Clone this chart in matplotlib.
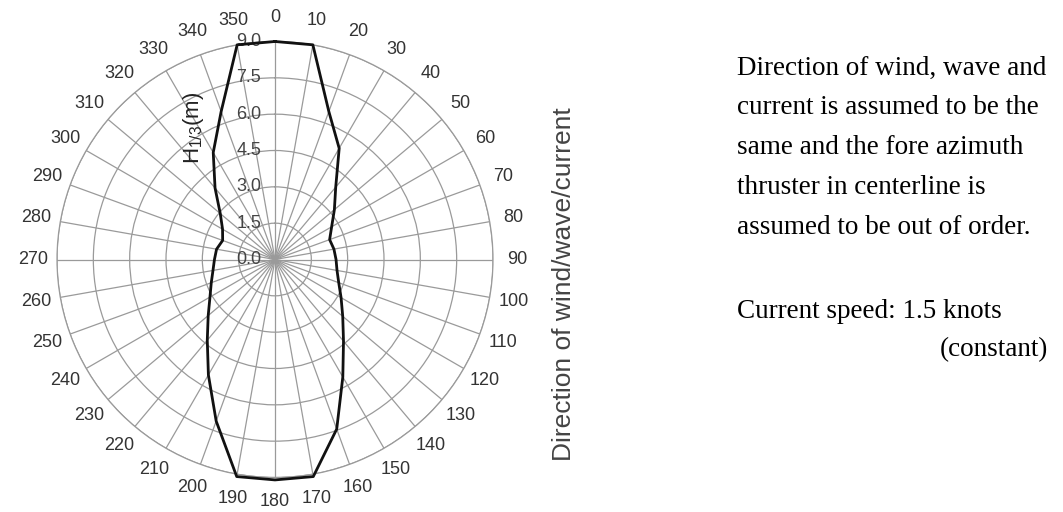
import matplotlib
matplotlib.use("Agg")
import matplotlib.pyplot as plt
import numpy as np

# significant wave height limit per heading (deg, clockwise from bow)
directions = list(range(0, 360, 10))
h13 = [9.0, 9.0, 6.5, 5.3, 3.9, 3.2, 2.7, 2.4, 2.47, 2.52,
       2.6, 2.8, 3.15, 3.65, 4.4, 5.6, 7.45, 9.1, 9.1, 9.1,
       7.1, 5.5, 4.35, 3.6, 3.1, 2.8, 2.6, 2.5, 2.45, 2.3,
       2.5, 2.95, 3.85, 5.1, 6.5, 9.0]
rings = [0.0, 1.5, 3.0, 4.5, 6.0, 7.5, 9.0]
note_lines = ["Direction of wind, wave and",
              "current is assumed to be the",
              "same and the fore azimuth",
              "thruster in centerline is",
              "assumed to be out of order."]
speed_lines = ["Current speed: 1.5 knots", "(constant)"]

plt.rcParams["font.family"] = ["Liberation Sans", "DejaVu Sans"]
plt.rcParams["mathtext.fontset"] = "custom"
plt.rcParams["mathtext.rm"] = "Liberation Sans"
plt.rcParams["mathtext.it"] = "Liberation Sans"

W, H = 1063, 512
fig = plt.figure(figsize=(W / 100, H / 100), dpi=100)
cx, cy, R = 275, 259.5, 218
ax = fig.add_axes([(cx - R) / W, (H - cy - R) / H, 2 * R / W, 2 * R / H],
                  projection="polar")
ax.set_theta_zero_location("N")
ax.set_theta_direction(-1)
ax.set_ylim(0, 9.0)

ax.set_xticks(np.radians(directions))
ax.set_xticklabels([str(d) for d in directions], fontsize=13, color="#333333")
ax.tick_params(axis="x", pad=7)
ax.set_yticks(rings)
ax.set_yticklabels([])
ax.grid(True, color="#9a9a9a", linewidth=0.9)
ax.spines["polar"].set_color("#9a9a9a")
ax.spines["polar"].set_linewidth(0.9)

for r in rings:
    ax.annotate(f"{r:.1f}", xy=(0, r), xytext=(-10, 0), textcoords="offset points",
                ha="right", va="center", fontsize=13, color="#444444")

th = np.radians(directions + [directions[0]])
ax.plot(th, h13 + [h13[0]], color="#111111", linewidth=2.0, clip_on=False, zorder=5)

fig.text(193 / W, 1 - 128 / H, r"H$_{\mathregular{1/3}}$(m)", rotation=90,
         ha="center", va="center", fontsize=16, color="#222222")
fig.text(564 / W, 1 - 284 / H, "Direction of wind/wave/current", rotation=90,
         ha="center", va="center", fontsize=19, color="#444444")

serif = ["Liberation Serif", "DejaVu Serif"]
for i, line in enumerate(note_lines):
    fig.text(737 / W, 1 - (68 + 40 * i) / H, line, ha="left", va="center",
             fontsize=19.5, family=serif, color="black")
fig.text(737 / W, 1 - 312 / H, speed_lines[0], ha="left", va="center",
         fontsize=19.5, family=serif, color="black")
fig.text(1048 / W, 1 - 350 / H, speed_lines[1], ha="right", va="center",
         fontsize=19.5, family=serif, color="black")

fig.savefig("out.png", dpi=100)
